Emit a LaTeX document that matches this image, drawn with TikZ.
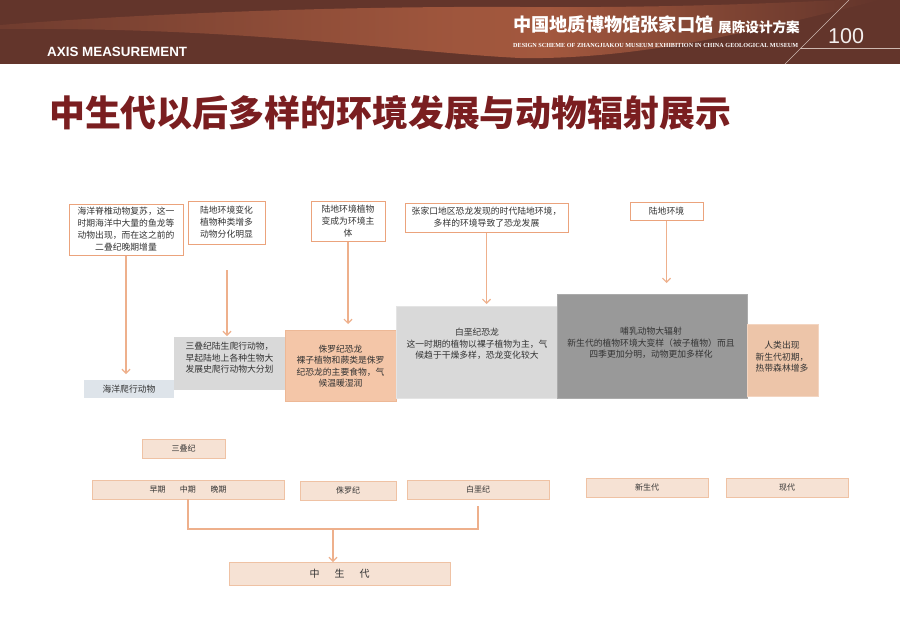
\documentclass[tikz,border=0pt]{standalone}
\usepackage{fontspec}
\usepackage{graphicx}
\setsansfont{Liberation Sans}
\newfontfamily\cjk{Noto Sans CJK SC}
\newfontfamily\engserif{Liberation Serif}
\usetikzlibrary{arrows.meta}
\definecolor{hdark}{HTML}{63352B}
\definecolor{hlight}{HTML}{A3583E}
\definecolor{titlered}{HTML}{7A1E20}
\definecolor{callborder}{HTML}{EBA37C}
\definecolor{arrcol}{HTML}{EEB08C}
\definecolor{txt}{HTML}{333333}
\definecolor{bandgray}{HTML}{D9D9D9}
\definecolor{bandgrayb}{HTML}{E4E4E4}
\definecolor{banddark}{HTML}{999999}
\definecolor{banddarkb}{HTML}{ABABAB}
\definecolor{peach}{HTML}{F4C6A8}
\definecolor{peachb}{HTML}{EDB896}
\definecolor{peachf}{HTML}{EDC5A9}
\definecolor{peachfb}{HTML}{F3D5C1}
\definecolor{bluish}{HTML}{DEE4EA}
\definecolor{perfill}{HTML}{F6E2D4}
\definecolor{perborder}{HTML}{EFC2A4}
\definecolor{hline}{HTML}{CDB8B0}
\pgfdeclarehorizontalshading{swoosh}{100bp}{color(0bp)=(hdark); color(25bp)=(hdark!80!hlight);
  color(37bp)=(hdark!45!hlight); color(50bp)=(hlight!92!hdark); color(56bp)=(hlight);
  color(64bp)=(hlight!55!hdark); color(75bp)=(hdark); color(100bp)=(hdark)}
\tikzset{
  callout/.style={draw=callborder, line width=1pt, fill=white, align=center,
    font=\cjk\fontsize{8.8}{12}\selectfont, inner sep=0pt, text=txt},
  band/.style={inner sep=0pt, line width=0.8pt},
  bandtext/.style={align=center, font=\cjk\fontsize{8.8}{11.5}\selectfont, inner sep=0pt, text=txt},
  perbox/.style={draw=perborder, fill=perfill, line width=0.9pt,
    font=\cjk\fontsize{8}{10}\selectfont, inner sep=0pt, text=txt},
  arr/.style={draw=arrcol, line width=1.2pt, -{Straight Barb[length=4pt,width=8pt]}},
  conn/.style={draw=arrcol, line width=1.2pt},
}
\begin{document}
\begin{tikzpicture}[x=1pt,y=-1pt]
\useasboundingbox (0,0) rectangle (900,637);
\fill[white] (0,0) rectangle (900,637);
% header
\fill[hdark] (0,0) rectangle (900,64);
\shade[shading=swoosh]
  (0,25) .. controls (150,13) and (350,6) .. (520,7)
  .. controls (650,8) and (760,4) .. (840,0) -- (880,0)
  .. controls (760,30) and (640,60) .. (520,58)
  .. controls (400,52) and (250,27) .. (0,29) -- cycle;
\draw[hline, line width=0.6pt] (785,64) -- (849,0);
\draw[hline, line width=0.6pt] (800,48) -- (900,48);
\node[anchor=west, inner sep=0pt, text=white] (axis) at (47,52)
  {\resizebox{140pt}{!}{\sffamily\bfseries AXIS MEASUREMENT}};
\node[anchor=base west, inner sep=0pt, text=white] (hcn) at (513,31)
  {\cjk\bfseries\fontsize{18.2}{18.2}\selectfont 中国地质博物馆张家口馆};
\node[anchor=base west, inner sep=0pt, text=white] (hcn2) at (718,32)
  {\cjk\bfseries\fontsize{13.6}{13.6}\selectfont 展陈设计方案};
\node[anchor=base west, inner sep=0pt, text=white] (heng) at (513,47.5)
  {\resizebox{285pt}{!}{\engserif\bfseries DESIGN SCHEME OF ZHANGJIAKOU MUSEUM EXHIBITION IN CHINA GEOLOGICAL MUSEUM}};
\node[anchor=base west, inner sep=0pt, text=white!92!hdark] (pnum) at (828,43.5)
  {\sffamily\fontsize{21.5}{21.5}\selectfont 100};
% title
\node[anchor=west, inner sep=0pt, text=titlered] (title) at (49,112.5)
  {\resizebox{682pt}{!}{\cjk\bfseries\fontsize{36}{36}\selectfont 中生代以后多样的环境发展与动物辐射展示}};
% bands
\node[band, fill=bluish, minimum width=90, minimum height=18] (ba) at (129,389) {};
\node[band, fill=bandgray, minimum width=111, minimum height=53] (bb) at (229.5,363.5) {};
\node[band, fill=peach, draw=peachb, minimum width=111, minimum height=71] (bc) at (340.5,365.5) {};
\node[band, fill=bandgray, draw=bandgrayb, minimum width=161, minimum height=92] (bd) at (476.5,352) {};
\node[band, fill=banddark, draw=banddarkb, minimum width=190, minimum height=104] (be) at (652,346) {};
\node[band, fill=peachf, draw=peachfb, minimum width=71, minimum height=72] (bf) at (782.5,360) {};
\node[bandtext] (ta) at (129,389) {海洋爬行动物};
\node[bandtext, align=left] (tb) at (229.5,358) {三叠纪陆生爬行动物，\\早起陆地上各种生物大\\发展史爬行动物大分划};
\node[bandtext] (tc) at (340.5,366) {侏罗纪恐龙\\裸子植物和蕨类是侏罗\\纪恐龙的主要食物，气\\候温暖湿润};
\node[bandtext] (td) at (477,344) {白垩纪恐龙\\这一时期的植物以裸子植物为主，气\\候趋于干燥多样，恐龙变化较大};
\node[bandtext] (te) at (651,343) {哺乳动物大辐射\\新生代的植物环境大变样（被子植物）而且\\四季更加分明，动物更加多样化};
\node[bandtext] (tf) at (782,357) {人类出现\\新生代初期，\\热带森林增多};
% callouts
\node[callout, minimum width=114, minimum height=51] (c1) at (126,229.5)
  {海洋脊椎动物复苏，这一\\时期海洋中大量的鱼龙等\\动物出现，而在这之前的\\二叠纪晚期增量};
\node[callout, minimum width=77, minimum height=43] (c2) at (226.5,222.5)
  {陆地环境变化\\植物种类增多\\动物分化明显};
\node[callout, minimum width=74, minimum height=40] (c3) at (348,221)
  {陆地环境植物\\变成为环境主\\体};
\node[callout, minimum width=163, minimum height=29] (c4) at (486.5,217.5)
  {张家口地区恐龙发现的时代陆地环境，\\多样的环境导致了恐龙发展};
\node[callout, minimum width=73, minimum height=18] (c5) at (666.5,211)
  {陆地环境};
\coordinate (e1) at (126,374);
\coordinate (s2) at (227,270);
\coordinate (e2) at (227,336);
\coordinate (e3) at (348,324);
\coordinate (e4) at (486.5,304);
\coordinate (e5) at (666.5,283);
\draw[arr] (c1.south) -- (e1);
\draw[arr] (s2) -- (e2);
\draw[arr] (c3.south) -- (e3);
\draw[arr] (c4.south) -- (e4);
\draw[arr] (c5.south) -- (e5);
% bottom boxes
\node[perbox, minimum width=83, minimum height=19] (san) at (183.5,448.5) {三叠纪};
\node[perbox, minimum width=192, minimum height=19] (tri) at (188,489.5)
  {早期\hspace{14.5pt}中期\hspace{14.5pt}晚期};
\node[perbox, minimum width=96, minimum height=19] (jur) at (348,490.5) {侏罗纪};
\node[perbox, minimum width=142, minimum height=19] (cre) at (478,489.5) {白垩纪};
\node[perbox, minimum width=122, minimum height=19] (cen) at (647,487.5) {新生代};
\node[perbox, minimum width=122, minimum height=19] (mod) at (787,487.5) {现代};
\node[perbox, minimum width=221, minimum height=23, font=\cjk\fontsize{10}{12}\selectfont] (mz) at (339.5,574)
  {中\hspace{15pt}生\hspace{15pt}代};
\coordinate (j1) at (188,529);
\coordinate (j2) at (478,529);
\coordinate (jm) at (333,529);
\coordinate (r0) at (478,506);
\draw[conn] (tri.south) -- (j1) -- (j2) -- (r0);
\draw[arr] (jm) -- (mz.north -| jm);
\end{tikzpicture}
\end{document}
